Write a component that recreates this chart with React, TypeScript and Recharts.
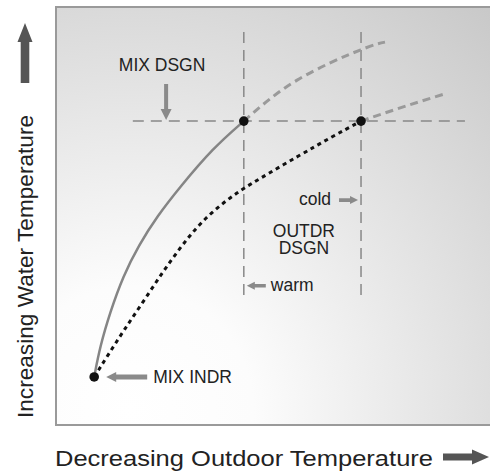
import React from 'react';
import { ComposedChart, Line, Scatter, XAxis, YAxis, ReferenceArea, ReferenceLine, ReferenceDot } from 'recharts';

// curve values in arbitrary units (0..100 on both axes)
const mixCurve = [
  { x: 8.6, y: 11.5 },
  { x: 9.9, y: 18.7 },
  { x: 12.2, y: 27.0 },
  { x: 15.1, y: 35.6 },
  { x: 18.7, y: 43.1 },
  { x: 22.7, y: 49.8 },
  { x: 27.9, y: 56.9 },
  { x: 35.4, y: 66.3 },
  { x: 42.3, y: 72.7 },
];

const outdoorCurve = [
  { x: 8.6, y: 11.5 },
  { x: 11.7, y: 16.7 },
  { x: 15.3, y: 22.7 },
  { x: 19.6, y: 29.4 },
  { x: 23.9, y: 36.4 },
  { x: 27.9, y: 42.3 },
  { x: 31.5, y: 47.1 },
  { x: 35.4, y: 51.2 },
  { x: 40.3, y: 55.3 },
  { x: 45.3, y: 58.6 },
  { x: 55.0, y: 64.6 },
  { x: 61.7, y: 68.7 },
  { x: 68.7, y: 72.7 },
];

const warmExtension = [
  { x: 42.3, y: 72.7 },
  { x: 54.3, y: 82.5 },
  { x: 68.5, y: 89.7 },
  { x: 74.1, y: 91.6 },
];

const coldExtension = [
  { x: 68.7, y: 72.7 },
  { x: 78.2, y: 76.1 },
  { x: 88.1, y: 79.4 },
];

const indoorPoint = { x: 8.6, y: 11.5 };
const mixDesignTemp = 72.7;
const warmDesign = 42.3;
const coldDesign = 68.7;
const designPoints = [indoorPoint, { x: warmDesign, y: mixDesignTemp }, { x: coldDesign, y: mixDesignTemp }];

// extents of the guide lines
const guideX = [17.3, 92.1];
const guideY = [31.1, 94.3];

const FONT = '"Liberation Sans", Arial, Helvetica, sans-serif';
const ARROW = '#8a8a8a';
const TEXT = '#222';

const dot = (props: any) => <circle cx={props.cx} cy={props.cy} r={4.8} fill="#111" />;

const MixDsgnMark = ({ cx, cy }: any) => (
  <g>
    <polygon
      points={`${cx - 2},${cy - 37} ${cx + 2},${cy - 37} ${cx + 2},${cy - 12} ${cx + 5.5},${cy - 12} ${cx},${cy - 1} ${cx - 5.5},${cy - 12} ${cx - 2},${cy - 12}`}
      fill={ARROW}
    />
    <text x={cx - 4} y={cy - 50} textAnchor="middle" fontFamily={FONT} fontSize={17.5} fill={TEXT}>MIX DSGN</text>
  </g>
);

const MixIndrMark = ({ cx, cy }: any) => (
  <g>
    <polygon
      points={`${cx + 12},${cy} ${cx + 22},${cy - 5} ${cx + 22},${cy - 2.5} ${cx + 53},${cy - 2.5} ${cx + 53},${cy + 2.5} ${cx + 22},${cy + 2.5} ${cx + 22},${cy + 5}`}
      fill={ARROW}
    />
    <text x={cx + 59} y={cy + 6} fontFamily={FONT} fontSize={17.5} fill={TEXT}>MIX INDR</text>
  </g>
);

const ColdMark = ({ cx, cy }: any) => (
  <g>
    <polygon
      points={`${cx - 3},${cy} ${cx - 11},${cy - 4} ${cx - 11},${cy - 1.8} ${cx - 22},${cy - 1.8} ${cx - 22},${cy + 1.8} ${cx - 11},${cy + 1.8} ${cx - 11},${cy + 4}`}
      fill={ARROW}
    />
    <text x={cx - 30} y={cy + 5} textAnchor="end" fontFamily={FONT} fontSize={17.5} fill={TEXT}>cold</text>
  </g>
);

const WarmMark = ({ cx, cy }: any) => (
  <g>
    <polygon
      points={`${cx + 3},${cy} ${cx + 11},${cy - 4} ${cx + 11},${cy - 1.8} ${cx + 22},${cy - 1.8} ${cx + 22},${cy + 1.8} ${cx + 11},${cy + 1.8} ${cx + 11},${cy + 4}`}
      fill={ARROW}
    />
    <text x={cx + 27} y={cy + 5} fontFamily={FONT} fontSize={17.5} fill={TEXT}>warm</text>
  </g>
);

const OutdrMark = ({ cx, cy }: any) => (
  <g>
    <text x={cx + 1.5} y={cy - 8} textAnchor="middle" fontFamily={FONT} fontSize={17.5} fill={TEXT}>OUTDR</text>
    <text x={cx + 1.5} y={cy + 9} textAnchor="middle" fontFamily={FONT} fontSize={17.5} fill={TEXT}>DSGN</text>
  </g>
);

const YTitle = ({ viewBox }: any) => {
  const x = viewBox.x + 33;
  const y = viewBox.y + viewBox.height - 7;
  return (
    <g>
      <polygon points="25,23 32.5,42 29.3,42 29.3,83 20.7,83 20.7,42 17.5,42" fill="#555" />
      <text x={x} y={y} transform={`rotate(-90, ${x}, ${y})`} fontFamily={FONT} fontSize={22.5} textLength={303} lengthAdjust="spacingAndGlyphs" fill={TEXT}>
        Increasing Water Temperature
      </text>
    </g>
  );
};

const XTitle = ({ viewBox }: any) => {
  const x = viewBox.x - 1;
  const y = viewBox.y + 41;
  const ay = viewBox.y + 32;
  return (
    <g>
      <text x={x} y={y} fontFamily={FONT} fontSize={22} textLength={378} lengthAdjust="spacingAndGlyphs" fill={TEXT}>
        Decreasing Outdoor Temperature
      </text>
      <polygon
        points={`443,${ay - 3.5} 472,${ay - 3.5} 472,${ay - 7.5} 489,${ay} 472,${ay + 7.5} 472,${ay + 3.5} 443,${ay + 3.5}`}
        fill="#555"
      />
    </g>
  );
};

export default function App() {
  return (
    <div style={{ position: 'absolute', left: 0, top: 0, width: 490, height: 472, background: '#fff' }}>
      <svg width={0} height={0} style={{ position: 'absolute' }}>
        <defs>
          <radialGradient id="bgGrad" gradientUnits="userSpaceOnUse" cx={130} cy={410} r={560}>
            <stop offset="0%" stopColor="#ffffff" />
            <stop offset="22%" stopColor="#fcfcfc" />
            <stop offset="100%" stopColor="#c6c6c6" />
          </radialGradient>
        </defs>
      </svg>
      <ComposedChart width={490} height={472} margin={{ top: 7, right: -10, left: 0, bottom: 0 }}>
        <XAxis
          dataKey="x"
          type="number"
          domain={[0, 100]}
          height={47}
          axisLine={false}
          tick={false}
          tickLine={false}
          label={{ content: XTitle }}
        />
        <YAxis
          dataKey="y"
          type="number"
          domain={[0, 100]}
          width={56}
          axisLine={false}
          tick={false}
          tickLine={false}
          label={{ content: YTitle }}
        />
        <ReferenceArea x1={0} x2={100} y1={0} y2={100} fill="url(#bgGrad)" fillOpacity={1} stroke="#9a9a9a" strokeWidth={2} />
        <ReferenceLine
          segment={[{ x: guideX[0], y: mixDesignTemp }, { x: guideX[1], y: mixDesignTemp }]}
          stroke="#888"
          strokeWidth={1.5}
          strokeDasharray="11 7"
        />
        <ReferenceLine
          segment={[{ x: warmDesign, y: guideY[0] }, { x: warmDesign, y: guideY[1] }]}
          stroke="#888"
          strokeWidth={1.5}
          strokeDasharray="11 7"
        />
        <ReferenceLine
          segment={[{ x: coldDesign, y: guideY[0] }, { x: coldDesign, y: guideY[1] }]}
          stroke="#888"
          strokeWidth={1.5}
          strokeDasharray="11 7"
        />
        <Line data={warmExtension} dataKey="y" type="natural" stroke="#9a9a9a" strokeWidth={3} strokeDasharray="8 5" dot={false} isAnimationActive={false} />
        <Line data={coldExtension} dataKey="y" type="natural" stroke="#9a9a9a" strokeWidth={3} strokeDasharray="8 5" dot={false} isAnimationActive={false} />
        <Line data={mixCurve} dataKey="y" type="basis" stroke="#858585" strokeWidth={2.5} dot={false} isAnimationActive={false} />
        <Line data={outdoorCurve} dataKey="y" type="basis" stroke="#111" strokeWidth={3} strokeDasharray="4 4" dot={false} isAnimationActive={false} />
        <Scatter data={designPoints} dataKey="y" shape={dot} isAnimationActive={false} />
        <ReferenceDot x={24.8} y={mixDesignTemp} shape={MixDsgnMark} />
        <ReferenceDot x={indoorPoint.x} y={indoorPoint.y} shape={MixIndrMark} />
        <ReferenceDot x={coldDesign} y={53.8} shape={ColdMark} />
        <ReferenceDot x={warmDesign} y={33.3} shape={WarmMark} />
        <ReferenceDot x={(warmDesign + coldDesign) / 2} y={43.1} shape={OutdrMark} />
      </ComposedChart>
    </div>
  );
}
